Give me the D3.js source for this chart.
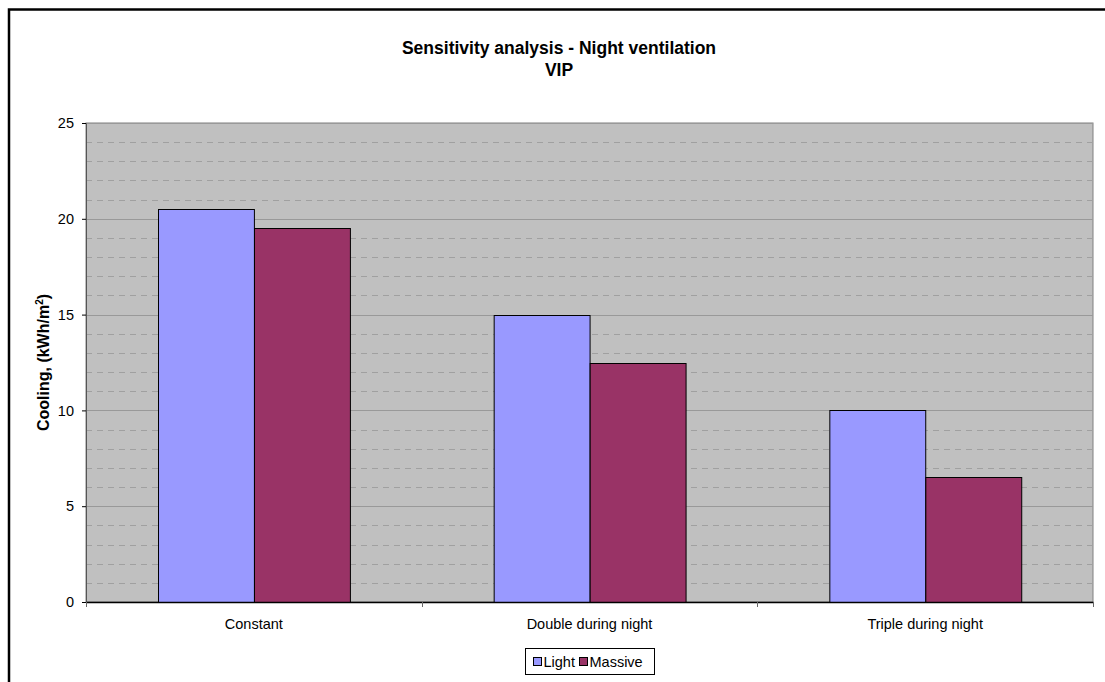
<!DOCTYPE html>
<html lang=en>
<head>
<meta charset="utf-8">
<script src="https://d3js.org/d3.v7.min.js"></script>
<style>
  body { margin: 0; background: #fff; }
  svg { display: block; font-family: Arial, "Liberation Sans", sans-serif; }
</style>
</head>
<body>
<div id="chart"></div>
<script>
// chart data
var categories = ["Constant", "Double during night", "Triple during night"];
var seriesNames = ["Light", "Massive"];
var lightValues = [20.5, 15, 10];
var massiveValues = [19.5, 12.5, 6.5];
var yTicks = [0, 5, 10, 15, 20, 25];

(function() {
  var width = 1105, height = 682;
  var colors = ["#9999ff", "#993366"];
  var margin = {top: 123, right: 12, bottom: 80, left: 86};
  var w = width - margin.left - margin.right,
      h = height - margin.top - margin.bottom;
  var font = "Arial, 'Liberation Sans', sans-serif";

  var svg = d3.select("#chart").append("svg")
      .attr("width", width)
      .attr("height", height);

  // outer chart border (runs off the right/bottom edge)
  svg.append("rect")
      .attr("x", 9).attr("y", 9.5)
      .attr("width", width + 20).attr("height", height + 20)
      .attr("fill", "none").attr("stroke", "#000").attr("stroke-width", 2.5);

  // title
  svg.append("text")
      .attr("x", 559).attr("y", 54)
      .attr("text-anchor", "middle")
      .attr("font-size", 17.5).attr("font-weight", "bold")
      .text("Sensitivity analysis - Night ventilation");
  svg.append("text")
      .attr("x", 559).attr("y", 76)
      .attr("text-anchor", "middle")
      .attr("font-size", 17.5).attr("font-weight", "bold")
      .text("VIP");

  var g = svg.append("g").attr("transform", "translate(" + margin.left + "," + margin.top + ")");

  var x0 = d3.scaleBand().domain(categories).range([0, w]).paddingInner(0).paddingOuter(0);
  var x1 = d3.scaleBand().domain(seriesNames).range([0, x0.bandwidth()]).paddingInner(0).paddingOuter(0.75);
  var y = d3.scaleLinear().domain([0, 25]).range([h, 0]);

  // plot background
  g.append("rect")
      .attr("width", w).attr("height", h)
      .attr("fill", "#c0c0c0")
      .attr("stroke", "#808080").attr("stroke-width", 1);

  // minor dashed gridlines
  g.append("g").selectAll("line")
    .data(d3.range(1, 25).filter(function(d) { return d % 5 !== 0; }))
    .enter().append("line")
      .attr("x1", 0).attr("x2", w)
      .attr("y1", function(d) { return Math.round(y(d)) + 0.5; })
      .attr("y2", function(d) { return Math.round(y(d)) + 0.5; })
      .attr("stroke", "#a0a0a0").attr("stroke-dasharray", "6,5");

  // major gridlines
  g.append("g").selectAll("line")
    .data(yTicks.slice(1))
    .enter().append("line")
      .attr("x1", 0).attr("x2", w)
      .attr("y1", function(d) { return Math.round(y(d)) + 0.5; })
      .attr("y2", function(d) { return Math.round(y(d)) + 0.5; })
      .attr("stroke", "#999999");

  // bars
  var data = categories.map(function(c, i) {
    return {cat: c, vals: [{k: "Light", v: lightValues[i]}, {k: "Massive", v: massiveValues[i]}]};
  });
  g.append("g").selectAll("g")
    .data(data)
    .enter().append("g")
      .attr("transform", function(d) { return "translate(" + x0(d.cat) + ",0)"; })
    .selectAll("rect")
    .data(function(d) { return d.vals; })
    .enter().append("rect")
      .attr("x", function(d) { return Math.round(x1(d.k)) + 0.5; })
      .attr("y", function(d) { return Math.round(y(d.v)) + 0.5; })
      .attr("width", x1.bandwidth())
      .attr("height", function(d) { return h - Math.round(y(d.v)); })
      .attr("fill", function(d, i) { return colors[i]; })
      .attr("stroke", "#000").attr("stroke-width", 1);

  // y axis
  var yAxis = g.append("g")
      .call(d3.axisLeft(y).tickValues(yTicks).tickSize(4).tickPadding(8));
  yAxis.selectAll("text").attr("font-size", 14.5).attr("font-family", font).attr("fill", "#000");
  yAxis.selectAll("line").attr("stroke", "#000");
  yAxis.select(".domain").attr("stroke", "#555");

  // x axis
  var xAxis = g.append("g")
      .attr("transform", "translate(0," + h + ")")
      .call(d3.axisBottom(x0).tickSize(0).tickPadding(17));
  xAxis.selectAll("text").attr("font-size", 14.5).attr("font-family", font).attr("fill", "#000");
  xAxis.select(".domain").attr("stroke", "#000").attr("stroke-width", 1.5);
  g.append("g").selectAll("line")
    .data(d3.range(0, categories.length + 1))
    .enter().append("line")
      .attr("x1", function(i) { return Math.round(i * x0.bandwidth()) + 0.5; })
      .attr("x2", function(i) { return Math.round(i * x0.bandwidth()) + 0.5; })
      .attr("y1", h).attr("y2", h + 5)
      .attr("stroke", "#666");

  // y axis label
  svg.append("text")
      .attr("transform", "translate(49," + (margin.top + h / 2) + ") rotate(-90)")
      .attr("text-anchor", "middle")
      .attr("font-size", 16).attr("font-weight", "bold")
      .html("Cooling, (kWh/m<tspan dy='-6' font-size='10'>2</tspan><tspan dy='6'>)</tspan>");

  // legend
  var legend = svg.append("g").attr("transform", "translate(525.5,648.5)");
  legend.append("rect")
      .attr("width", 129).attr("height", 26)
      .attr("fill", "#fff").attr("stroke", "#000");
  var items = legend.selectAll("g.item")
    .data(seriesNames)
    .enter().append("g")
      .attr("class", "item")
      .attr("transform", function(d, i) { return "translate(" + (i === 0 ? 8 : 54) + ",0)"; });
  items.append("rect")
      .attr("x", 0).attr("y", 9)
      .attr("width", 8).attr("height", 8)
      .attr("fill", function(d, i) { return colors[i]; })
      .attr("stroke", "#000");
  items.append("text")
      .attr("x", 10).attr("y", 18)
      .attr("font-size", 14.5)
      .text(function(d) { return d; });
})();
</script>
</body>
</html>
